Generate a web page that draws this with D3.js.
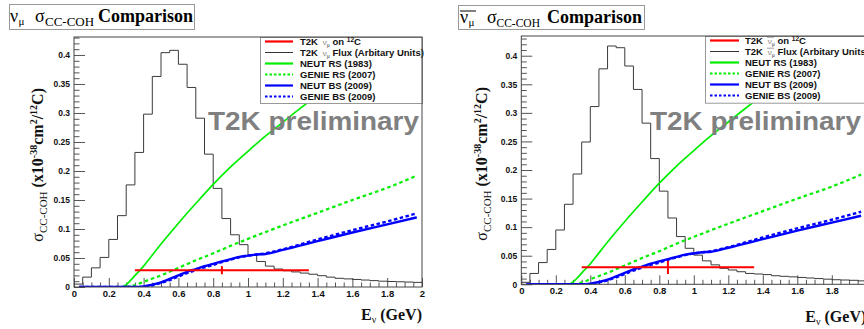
<!DOCTYPE html>
<html lang="en">
<head>
<meta charset="utf-8">
<title>CC coherent cross section comparison</title>
<script src="https://d3js.org/d3.v7.min.js"></script>
<style>
  body { margin: 0; background: #fff; }
  svg { display: block; }
</style>
</head>
<body>
<svg></svg>
<script>

// ---- data ----

// flux histogram: 40 bins of 0.05 GeV from 0 to 2 GeV (arbitrary units)
const binLow = d3.range(40).map(i => +(i * 0.05).toFixed(2));
const binHigh = 2.0;

const fluxNu = [0.005, 0.017, 0.033, 0.051, 0.082, 0.123, 0.176, 0.232, 0.298, 0.363,
                0.404, 0.408, 0.384, 0.344, 0.291, 0.229, 0.170, 0.118, 0.090, 0.073,
                0.055, 0.044, 0.036, 0.031, 0.028, 0.026, 0.024, 0.022, 0.0195, 0.017,
                0.015, 0.014, 0.013, 0.012, 0.011, 0.010, 0.0095, 0.009, 0.0085, 0.008];

const fluxNubar = [0.0035, 0.019, 0.038, 0.061, 0.095, 0.140, 0.193, 0.249, 0.311, 0.377,
                   0.417, 0.414, 0.382, 0.341, 0.282, 0.220, 0.163, 0.116, 0.0835, 0.063,
                   0.051, 0.041, 0.034, 0.028, 0.025, 0.022, 0.019, 0.018, 0.017, 0.015,
                   0.014, 0.013, 0.012, 0.011, 0.010, 0.009, 0.008, 0.0075, 0.007, 0.006];

// model predictions (x10^-38 cm^2 / 12C)
const neutRsE  = [0.28, 0.30, 0.33, 0.36, 0.38, 0.40, 0.50, 0.60, 0.70, 0.80, 0.90, 1.00,
                  1.10, 1.20, 1.30, 1.40, 1.50, 1.60, 1.70, 1.80, 1.90, 1.97];
const neutRsXs = [0, 0.004, 0.013, 0.023, 0.029, 0.036, 0.074, 0.110, 0.144, 0.177, 0.207, 0.234,
                  0.260, 0.284, 0.308, 0.331, 0.353, 0.374, 0.395, 0.415, 0.434, 0.447];

const genieRsE  = [0.30, 0.35, 0.40, 0.50, 0.60, 0.70, 0.80, 0.90, 1.00, 1.20, 1.40, 1.60, 1.80, 1.97];
const genieRsXs = [0, 0.003, 0.009, 0.020, 0.033, 0.046, 0.058, 0.071, 0.083, 0.106, 0.128, 0.150, 0.171, 0.192];

const neutBsE  = [0.03, 0.35, 0.40, 0.45, 0.50, 0.55, 0.60, 0.65, 0.70, 0.75, 0.80, 0.85, 0.90,
                  0.95, 1.00, 1.05, 1.10, 1.20, 1.40, 1.60, 1.80, 1.97];
const neutBsXs = [0, 0, 0.001, 0.004, 0.008, 0.014, 0.020, 0.026, 0.031, 0.036, 0.040, 0.044, 0.048,
                  0.052, 0.054, 0.056, 0.057, 0.064, 0.079, 0.094, 0.108, 0.120];

const genieBsE  = [0.03, 0.38, 0.45, 0.50, 0.55, 0.60, 0.65, 0.70, 0.75, 0.80, 0.85, 0.90,
                   0.95, 1.00, 1.05, 1.10, 1.20, 1.40, 1.60, 1.80, 1.97];
const genieBsXs = [0, 0, 0.003, 0.007, 0.012, 0.018, 0.024, 0.029, 0.034, 0.038, 0.043, 0.047,
                   0.051, 0.054, 0.056, 0.058, 0.065, 0.082, 0.098, 0.113, 0.127];

// T2K measurement: [energy, xs, eLow, eHigh, xsLow, xsHigh]
const t2kNu    = [0.85, 0.029, 0.35, 1.35, 0.022, 0.036];
const t2kNubar = [0.85, 0.030, 0.35, 1.35, 0.018, 0.041];

const xTickLabels = ["0", "0.2", "0.4", "0.6", "0.8", "1", "1.2", "1.4", "1.6", "1.8", "2"];
const yTickLabels = ["0", "0.05", "0.1", "0.15", "0.2", "0.25", "0.3", "0.35", "0.4"];

const legendNames = ["T2K on", "T2K Flux", "NEUT RS (1983)", "GENIE RS (2007)", "NEUT BS (2009)", "GENIE BS (2009)"];

// ---- layout ----

const w = 864;
const h = 329;

const svg = d3.select("svg")
    .attr("width", w)
    .attr("height", h)
    .style("font-family", "'Liberation Sans', Arial, sans-serif");

const panels = [
  {id: "nu", bar: false, flux: fluxNu, t2k: t2kNu,
   x0: 74, x1: 422, yTop: 37, yBot: 287, yMax: 0.431,
   title: {boxX: 9, boxW: 185, boxY: 4, boxH: 25, nu: 10, sigma: 35, sub: 45, subSize: 13, comp: 98},
   legend: {x: 260, y: 37, h: 66, sx0: 265, sx1: 293, tx: 300},
   ytitle: 43, xtitleY: 320, mark: 208},
  {id: "nubar", bar: true, flux: fluxNubar, t2k: t2kNubar,
   x0: 521.3, x1: 866.3, yTop: 36, yBot: 284.3, yMax: 0.4345,
   title: {boxX: 458, boxW: 186, boxY: 5, boxH: 24, nu: 460, sigma: 487, sub: 496.5, subSize: 11.5, comp: 547},
   legend: {x: 705, y: 36, h: 66.7, sx0: 710, sx1: 739, tx: 745},
   ytitle: 487, xtitleY: 322, mark: 650}
];

const serif = "'Liberation Serif', 'Times New Roman', serif";

panels.forEach(drawPanel);

function drawPanel(p) {
  const g = svg.append("g").attr("id", p.id);

  const x = d3.scaleLinear().domain([0, 2]).range([p.x0, p.x1]);
  const y = d3.scaleLinear().domain([0, p.yMax]).range([p.yBot, p.yTop]);

  // frame background
  g.append("rect")
      .attr("x", p.x0).attr("y", p.yTop)
      .attr("width", p.x1 - p.x0).attr("height", p.yBot - p.yTop)
      .attr("fill", "#fff");

  g.append("clipPath").attr("id", "clip-" + p.id)
    .append("rect")
      .attr("x", p.x0).attr("y", p.yTop)
      .attr("width", p.x1 - p.x0).attr("height", p.yBot - p.yTop);

  // axes (ROOT style: ticks pointing inward)
  const yMajor = d3.axisLeft(y)
      .tickValues(yTickLabels.map(Number))
      .tickFormat((d, i) => yTickLabels[i])
      .tickSizeInner(-11).tickSizeOuter(0).tickPadding(4);
  const yMinor = d3.axisLeft(y)
      .tickValues(d3.range(0, 44).map(i => i / 100).filter(v => v <= p.yMax && Math.round(v * 100) % 5 !== 0))
      .tickFormat("").tickSizeInner(-5.5).tickSizeOuter(0);
  const xMajor = d3.axisBottom(x)
      .tickValues(xTickLabels.map(Number))
      .tickFormat((d, i) => xTickLabels[i])
      .tickSizeInner(-9).tickSizeOuter(0).tickPadding(3);
  const xMinor = d3.axisBottom(x)
      .tickValues(d3.range(0, 41).map(i => i * 0.05).filter((v, i) => i % 4 !== 0))
      .tickFormat("").tickSizeInner(-4.5).tickSizeOuter(0);

  [[yMajor, `translate(${p.x0},0)`], [yMinor, `translate(${p.x0},0)`],
   [xMajor, `translate(0,${p.yBot})`], [xMinor, `translate(0,${p.yBot})`]].forEach(([ax, tr]) => {
    const a = g.append("g").attr("transform", tr).call(ax);
    a.select(".domain").remove();
    a.selectAll("line").attr("stroke", "#555").attr("stroke-width", 1);
    a.selectAll("text")
        .attr("fill", "#111")
        .style("font-family", "'Liberation Sans', Arial, sans-serif")
        .style("font-weight", "bold")
        .style("font-size", ax === yMajor ? "8.5px" : "9.5px");
  });

  const plot = g.append("g").attr("clip-path", `url(#clip-${p.id})`);

  // flux histogram
  const fluxPts = binLow.map((e, i) => [e, p.flux[i]]);
  fluxPts.push([binHigh, p.flux[p.flux.length - 1]]);
  plot.append("path")
      .attr("d", d3.line().x(d => x(d[0])).y(d => y(d[1])).curve(d3.curveStepAfter)(fluxPts))
      .attr("fill", "none")
      .attr("stroke", "#3a3a3a")
      .attr("stroke-width", 1);

  // model curves
  const curve = d3.line().x(d => x(d[0])).y(d => y(d[1])).curve(d3.curveMonotoneX);
  const models = [
    {e: genieRsE, v: genieRsXs, color: "#00ee00", width: 2.2, dash: "3.5,3"},
    {e: neutRsE, v: neutRsXs, color: "#00ee00", width: 1.7, dash: null},
    {e: genieBsE, v: genieBsXs, color: "#0000ff", width: 2.4, dash: "3.5,2.5"},
    {e: neutBsE, v: neutBsXs, color: "#0000ff", width: 2.4, dash: null}
  ];
  models.forEach(m => {
    plot.append("path")
        .attr("d", curve(m.e.map((e, i) => [e, m.v[i]])))
        .attr("fill", "none")
        .attr("stroke", m.color)
        .attr("stroke-width", m.width)
        .attr("stroke-dasharray", m.dash);
  });

  // T2K measurement
  const [te, txs, teLo, teHi, txLo, txHi] = p.t2k;
  plot.append("line")
      .attr("x1", x(teLo)).attr("x2", x(teHi))
      .attr("y1", y(txs)).attr("y2", y(txs))
      .attr("stroke", "#ff0000").attr("stroke-width", 2);
  plot.append("line")
      .attr("x1", x(te)).attr("x2", x(te))
      .attr("y1", y(txLo)).attr("y2", y(txHi))
      .attr("stroke", "#ff0000").attr("stroke-width", 2);

  // watermark
  g.append("text")
      .attr("x", p.mark).attr("y", 129.5)
      .attr("textLength", 211).attr("lengthAdjust", "spacingAndGlyphs")
      .attr("fill", "#808080")
      .style("font-weight", "bold")
      .style("font-size", "25px")
      .text("T2K preliminary");

  // legend
  const L = p.legend;
  g.append("rect")
      .attr("x", L.x + 0.5).attr("y", L.y + 0.5)
      .attr("width", p.x1 - L.x).attr("height", L.h)
      .attr("fill", "#fff").attr("stroke", "#999");
  const keyStyle = [
    {color: "#ff0000", width: 2.2, dash: null},
    {color: "#333", width: 1, dash: null},
    {color: "#00ee00", width: 2.2, dash: null},
    {color: "#00ee00", width: 2.2, dash: "2.5,2"},
    {color: "#0000ff", width: 2.2, dash: null},
    {color: "#0000ff", width: 2.2, dash: "2.5,2"}
  ];
  legendNames.forEach((name, i) => {
    const base = L.y + 8 + i * 11;
    g.append("line")
        .attr("x1", L.sx0).attr("x2", L.sx1)
        .attr("y1", base - 3.5).attr("y2", base - 3.5)
        .attr("stroke", keyStyle[i].color)
        .attr("stroke-width", keyStyle[i].width)
        .attr("stroke-dasharray", keyStyle[i].dash);
    const t = g.append("text")
        .attr("x", L.tx).attr("y", base)
        .attr("fill", "#111")
        .style("font-weight", "bold")
        .style("font-size", "9.5px");
    if (i < 2) {
      t.append("tspan").text("T2K ");
      t.append("tspan").attr("fill", "#777").style("font-size", "8px").attr("font-weight", "normal").text("\u00a0\u03bd");
      t.append("tspan").attr("fill", "#777").style("font-size", "5px").attr("dy", 1.5).text("\u03bc");
      if (p.bar) {
        const nx = L.tx + 22;
        g.append("line").attr("x1", nx).attr("x2", nx + 7)
            .attr("y1", base - 6.8).attr("y2", base - 6.8)
            .attr("stroke", "#777").attr("stroke-width", 0.7);
      }
      if (i === 0) {
        t.append("tspan").attr("dy", -1.5).text(" on ");
        t.append("tspan").style("font-size", "6.5px").attr("dy", -3).text("12");
        t.append("tspan").attr("dy", 3).text("C");
      } else {
        t.append("tspan").attr("dy", -1.5).text(" Flux (Arbitary Units)");
      }
    } else {
      t.text(name);
    }
  });

  // frame
  g.append("rect")
      .attr("x", p.x0).attr("y", p.yTop)
      .attr("width", p.x1 - p.x0).attr("height", p.yBot - p.yTop)
      .attr("fill", "none")
      .attr("stroke", "#444").attr("stroke-width", 1);

  // title box
  const T = p.title;
  g.append("rect")
      .attr("x", T.boxX + 0.5).attr("y", T.boxY + 0.5)
      .attr("width", T.boxW).attr("height", T.boxH)
      .attr("fill", "#fff").attr("stroke", "#999");
  const tb = T.boxY + 17.5;
  g.append("text").attr("x", T.nu).attr("y", tb)
      .style("font-family", serif).style("font-size", "18px").text("\u03bd");
  g.append("text").attr("x", T.nu + 8.5).attr("y", tb + 3)
      .style("font-family", serif).style("font-size", "11px").text("\u03bc");
  if (p.bar) {
    g.append("line").attr("x1", T.nu).attr("x2", T.nu + 16)
        .attr("y1", T.boxY + 6).attr("y2", T.boxY + 6)
        .attr("stroke", "#000").attr("stroke-width", 1);
  }
  g.append("text").attr("x", T.sigma).attr("y", tb)
      .style("font-family", serif).style("font-size", "18px").text("\u03c3");
  g.append("text").attr("x", T.sub).attr("y", tb + 4)
      .style("font-family", serif).style("font-size", T.subSize + "px").text("CC-COH");
  g.append("text").attr("x", T.comp).attr("y", tb)
      .style("font-family", serif).style("font-size", "18px").style("font-weight", "bold")
      .text("Comparison");

  // y axis title
  const yt = g.append("text")
      .attr("transform", `translate(${p.ytitle},${p.yTop + 51}) rotate(-90)`)
      .attr("text-anchor", "end")
      .style("font-family", serif)
      .style("font-size", "16px")
      .attr("fill", "#111");
  yt.append("tspan").text("\u03c3");
  yt.append("tspan").style("font-size", "11px").attr("dy", 4).text("CC-COH");
  yt.append("tspan").attr("dy", -4).style("font-weight", "bold").text(" (x10");
  yt.append("tspan").style("font-size", "10px").style("font-weight", "bold").attr("dy", -6).text("-38");
  yt.append("tspan").attr("dy", 6).style("font-weight", "bold").text("cm");
  yt.append("tspan").style("font-size", "10px").style("font-weight", "bold").attr("dy", -6).text("2");
  yt.append("tspan").attr("dy", 6).style("font-weight", "bold").text("/");
  yt.append("tspan").style("font-size", "10px").style("font-weight", "bold").attr("dy", -6).text("12");
  yt.append("tspan").attr("dy", 6).style("font-weight", "bold").text("C)");

  // x axis title
  const xt = g.append("text")
      .attr("x", p.x1).attr("y", p.xtitleY)
      .attr("text-anchor", "end")
      .style("font-family", serif)
      .style("font-size", "16px")
      .style("font-weight", "bold")
      .attr("fill", "#111");
  xt.append("tspan").text("E");
  xt.append("tspan").style("font-size", "10px").style("font-weight", "normal").attr("dy", 3).text("\u03bd");
  xt.append("tspan").attr("dy", -3).text(" (GeV)");
}

</script>
</body>
</html>
